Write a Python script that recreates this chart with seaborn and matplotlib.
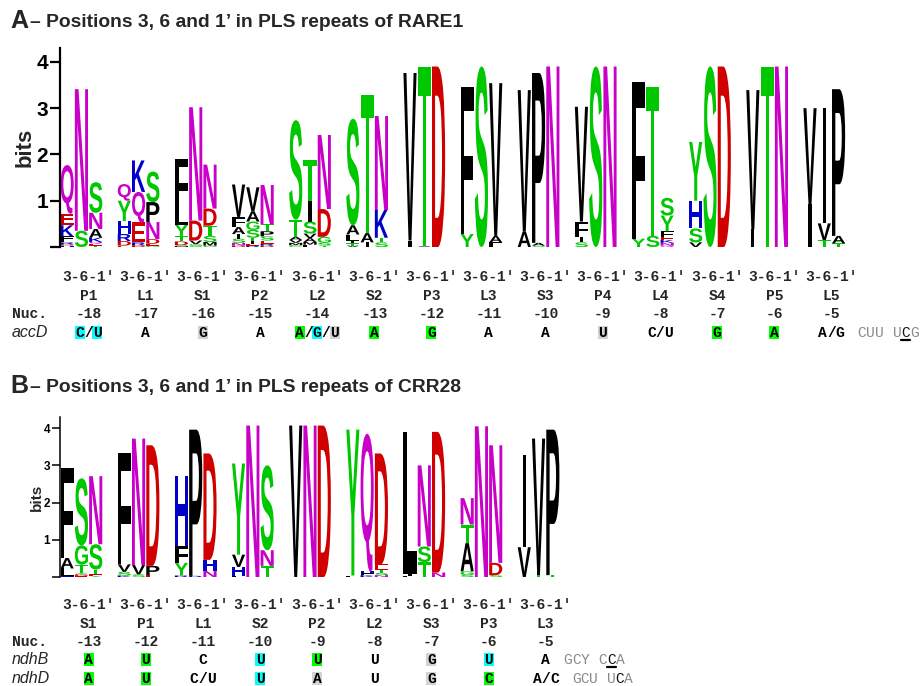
import matplotlib
matplotlib.use("Agg")
import matplotlib.pyplot as plt
import seaborn as sns
from matplotlib.textpath import TextPath
from matplotlib.font_manager import FontProperties
from matplotlib.patches import PathPatch, Rectangle
from matplotlib.transforms import Affine2D
from matplotlib.lines import Line2D

# ---------------- data ----------------
# panel A: RARE1 (each column listed bottom -> top, letter + height in bits)
rare1_groups = ["P1", "L1", "S1", "P2", "L2", "S2", "P3", "L3", "S3", "P4", "L4", "S4", "P5", "L5"]
rare1_nuc = ["-18", "-17", "-16", "-15", "-14", "-13", "-12", "-11", "-10", "-9", "-8", "-7", "-6", "-5"]
rare1_cols = [
    "H.03 D.03 R.04 L.05 F.08 K.24 E.25 Q1.05", "S.35 N3.06", "T.03 E.04 Q.04 K.09 A.19 N.35 S.66",
    "E.03 D.1 R.15 H.28 Y.44 Q.36", "D.04 R.06 E.43 Q.66 K.68", "G.03 E.04 D.1 N.37 P.43 S.66",
    "M.02 S.02 D.08 T.12 Y.24 L.32 F1.1", "S.03 G.03 V.08 D.43 N2.45", "G.03 M.08 S.13 T.22 D.37 N.95",
    "D.03 N.06 S.09 I.1 A.15 F.22 V.7", "R.03 E.04 I.06 T.07 S.17 G.18 A.22 V.52", "D.03 R.04 E.07 S.09 P.11 T.15 N.85",
    "C.04 M.05 V.06 A.07 T.37 S2.15", "L.05 M.06 A.08 V.1 S.26 I.44 T.9", "T.03 S.06 G.13 D.6 N1.6",
    "V.03 T.05 I.05 L.14 A.2 S2.3", "I.1 A.2 T2.98", "S.1 T.1 K.6 N2.03",
    "I.14 V3.62", "A.02 T3.88", "D3.9",
    "Y.28 F3.17", "S3.9", "F.1 A.14 V3.3",
    "A.33 V3.06", "S.03 A.06 P3.67", "N3.9",
    "S.1 I.12 F.33 V2.48", "S3.9", "N3.9",
    "Y.18 F3.38", "S.24 T3.22", "Q.03 N.06 K.06 E.07 F.12 Y.34 S.38",
    "V.1 S.3 H.6 Y1.27", "S3.9", "D3.9",
    "I.38 V3.01", "T3.9", "N3.9",
    "I.92 V2.08", "T.15 V.36 I2.49", "T.08 A.16 P3.17",
]
accd_nt = ["C/U", "A", "G", "A", "A/G/U", "A", "G", "A", "A", "U", "C/U", "G", "A", "A/G"]
accd_hl = ["c.c", ".", "x", ".", "g.c.x", "g", "g", ".", ".", "x", "...", "g", "g", "..."]
accd_tail = "CUU UCG"

# panel B: CRR28
crr28_groups = ["S1", "P1", "L1", "S2", "P2", "L2", "S3", "P3", "L3"]
crr28_nuc = ["-13", "-12", "-11", "-10", "-9", "-8", "-7", "-6", "-5"]
crr28_cols = [
    "H.03 L.2 A.28 F2.41", "E.03 D.04 Y.04 T.22 G.52 S1.8", "Y.03 E.04 T.13 S.68 N1.83",
    "K.04 S.1 V.2 F2.98", "S.07 V.25 N3.4", "E.05 P.25 D3.24",
    "R.04 Y.34 F.46 H1.87", "R.03 P3.93", "N.16 H.3 D2.86",
    "F.04 H.23 V.33 Y2.45", "N4.07", "T.3 N.42 S2.28",
    "V4.07", "N4.07", "D4.07",
    "F.04 Y3.92", "K.05 F.05 H.05 Q3.7", "N.05 S.06 T.09 E.14 D2.98",
    "F.04 I.04 L3.82", "T.4 S.42 N2.18", "N.12 D3.78",
    "S.05 G.1 A.76 T.5 N.71", "N4.05", "S.05 D.33 N3.16",
    "V.8 I2.47", "T.05 I.08 V3.59", "T.05 P3.91",
]
ndhb_nt = ["A", "U", "C", "U", "U", "U", "G", "U", "A"]
ndhb_hl = ["g", "g", ".", "c", "g", ".", "x", "c", "."]
ndhb_tail = "GCY CCA"
ndhd_nt = ["A", "U", "C/U", "U", "A", "U", "G", "C", "A/C"]
ndhd_hl = ["g", "g", "...", "c", "x", ".", "x", "g", "..."]
ndhd_tail = "GCU UCA"

# ---------------- style ----------------
sns.set_theme(style="white")
plt.rcParams["font.family"] = ["Liberation Sans", "DejaVu Sans"]

W, H = 921, 686
fig = plt.figure(figsize=(W / 100, H / 100), dpi=100)
fig.patch.set_facecolor("white")

def fx(x):
    return x / W

def fy(y):
    return 1 - y / H

letter_colors = {}
for c in "GSTYC":
    letter_colors[c] = "#00C800"
for c in "NQ":
    letter_colors[c] = "#C800C8"
for c in "KRH":
    letter_colors[c] = "#0000C8"
for c in "DE":
    letter_colors[c] = "#D00000"

logo_font = FontProperties(family="Liberation Sans", weight="bold")
ref_width = TextPath((0, 0), "N", size=1, prop=logo_font).get_extents().width
hl_colors = {"c": "#00FFFF", "g": "#00FF00", "x": "#D3D3D3"}
MONO = ["Liberation Mono", "DejaVu Sans Mono"]
MONO_PT = 10.5
ADV = 0.6 * MONO_PT * 100 / 72


def draw_letter(ax, ch, x, y, w, h):
    tp = TextPath((0, 0), ch, size=1, prop=logo_font)
    bb = tp.get_extents()
    # narrow glyphs (I) keep their natural width, the rest fill the column
    gw = w * bb.width / ref_width if bb.width < 0.35 * ref_width else w
    x0 = x + (w - gw) / 2
    tr = Affine2D().translate(-bb.x0, -bb.y0).scale(gw / bb.width, h / bb.height).translate(x0, y)
    ax.add_patch(PathPatch(tr.transform_path(tp), fc=letter_colors.get(ch, "black"), ec="none", lw=0))


def draw_logo(ax, cols):
    for i, col in enumerate(cols):
        g, c = divmod(i, 3)
        x = 4 * g + c + 0.04
        y = 0.0
        for item in col.split():
            h = float(item[1:])
            draw_letter(ax, item[0], x, y, 0.92, h)
            y += h


def setup_axes(rect, ncols, tick_pt, tick_len, lw):
    ax = fig.add_axes(rect)
    ax.set_facecolor("none")
    ax.set_xlim(0, ncols)
    ax.set_ylim(0, 4.3)
    ax.set_xticks([])
    ax.set_yticks([0, 1, 2, 3, 4])
    ax.set_yticklabels(["", "1", "2", "3", "4"], fontsize=tick_pt, fontweight="bold")
    ax.tick_params(axis="y", direction="out", length=tick_len, width=lw, pad=1.5, left=True, colors="black")
    sns.despine(ax=ax, top=True, right=True, bottom=True)
    ax.spines["left"].set_linewidth(lw)
    ax.spines["left"].set_color("black")
    return ax


def mono_cells(text, cx, y, hl=None, weight="bold", color="black"):
    n = len(text)
    x0 = cx - (n - 1) / 2 * ADV
    for i, ch in enumerate(text):
        xc = x0 + i * ADV
        code = hl[i] if hl is not None and i < len(hl) else "."
        if code in hl_colors:
            fig.add_artist(Rectangle((fx(xc - 5), fy(y + 6.5)), 10 / W, 13 / H,
                                     transform=fig.transFigure, fc=hl_colors[code], ec="none", zorder=1))
        if ch != " ":
            fig.text(fx(xc), fy(y + 4.8), ch, ha="center", va="baseline", family=MONO,
                     fontsize=MONO_PT, weight=weight, color=color, zorder=2)
    return x0 + n * ADV - ADV / 2


def tail_cells(tail, left, y, underline):
    for i, ch in enumerate(tail):
        if ch == " ":
            continue
        xc = left + ADV / 2 + i * ADV
        edited = i == 5
        fig.text(fx(xc), fy(y + 4.8), ch, ha="center", va="baseline", family=MONO,
                 fontsize=MONO_PT, color="#111111" if edited else "#8a8a8a")
        if edited and underline:
            fig.add_artist(Line2D([fx(xc - 4.5), fx(xc + 4.5)], [fy(y + 7.5), fy(y + 7.5)],
                                  transform=fig.transFigure, color="black", lw=1.6))


def group_x(g):
    return 60 + (4 * g + 2) * 800 / 56


def label_rows(groups, nucs, y0):
    for g, lab in enumerate(groups):
        cx = group_x(g)
        for dy, txt in ((0, "3-6-1′"), (19, lab), (37, nucs[g])):
            fig.text(fx(cx), fy(y0 + dy + 4.8), txt, ha="center", va="baseline", family=MONO,
                     fontsize=MONO_PT, weight="bold")
    fig.text(fx(12), fy(y0 + 37 + 4.8), "Nuc.", family=MONO, fontsize=MONO_PT, weight="bold", va="baseline")


# ---------------- panel A ----------------
fig.text(fx(10), fy(28), "A", fontsize=18, fontweight="bold", va="baseline")
fig.text(fx(30), fy(27), "– Positions 3, 6 and 1’ in PLS repeats of RARE1", fontsize=13.9,
         fontweight="bold", va="baseline")
axA = setup_axes([fx(60), fy(247), 800 / W, 199 / H], 56, 15, 7, 1.6)
draw_logo(axA, rare1_cols)
fig.text(fx(25), fy(147), "bits", rotation=90, fontsize=16, fontweight="bold", ha="center", va="center")

label_rows(rare1_groups, rare1_nuc, 276)
for g in range(len(rare1_groups)):
    end = mono_cells(accd_nt[g], group_x(g), 332, accd_hl[g])
    if g == len(rare1_groups) - 1:
        tail_cells(accd_tail, end + ADV / 2 + ADV, 332, True)
fig.text(fx(12), fy(332 + 4.8), "accD", fontsize=11.5, style="italic", va="baseline")

# ---------------- panel B ----------------
fig.text(fx(10), fy(393), "B", fontsize=18, fontweight="bold", va="baseline")
fig.text(fx(30), fy(392), "– Positions 3, 6 and 1’ in PLS repeats of CRR28", fontsize=13.9,
         fontweight="bold", va="baseline")
axB = setup_axes([fx(60), fy(577), 36 * 800 / 56 / W, 160 / H], 36, 8.5, 5.5, 1.1)
draw_logo(axB, crr28_cols)
fig.text(fx(37), fy(497), "bits", rotation=90, fontsize=11, fontweight="bold", ha="center", va="center")

label_rows(crr28_groups, crr28_nuc, 604)
for g in range(len(crr28_groups)):
    endb = mono_cells(ndhb_nt[g], group_x(g), 659, ndhb_hl[g])
    endd = mono_cells(ndhd_nt[g], group_x(g), 678, ndhd_hl[g])
    if g == len(crr28_groups) - 1:
        tail_cells(ndhb_tail, endb + ADV / 2 + ADV, 659, True)
        tail_cells(ndhd_tail, endd + ADV / 2 + ADV, 678, False)
fig.text(fx(12), fy(659 + 4.8), "ndhB", fontsize=11.5, style="italic", va="baseline")
fig.text(fx(12), fy(678 + 4.8), "ndhD", fontsize=11.5, style="italic", va="baseline")

fig.savefig("out.png", dpi=100, facecolor="white")
